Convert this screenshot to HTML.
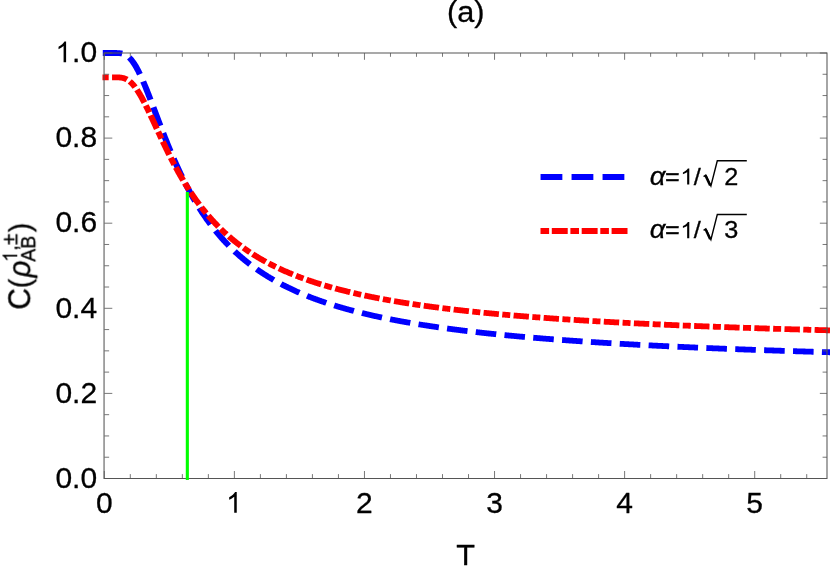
<!DOCTYPE html>
<html><head><meta charset="utf-8"><title>(a)</title>
<style>html,body{margin:0;padding:0;background:#fff;overflow:hidden}svg{display:block}text{font-family:"Liberation Sans",sans-serif;fill:#000;stroke:#000;stroke-width:0.3px}</style></head><body>
<svg width="830" height="567" viewBox="0 0 830 567">
<rect x="0" y="0" width="830" height="567" fill="#fff"/>
<g transform="scale(1.0509 1)">
<path d="M97.80 53.00 L99.62 53.00 L100.12 53.00 L100.61 53.00 L101.11 53.00 L101.61 53.00 L102.10 53.00 L102.60 53.00 L103.10 53.00 L103.59 53.00 L104.09 53.00 L104.59 53.00 L105.08 53.00 L105.58 53.00 L106.08 53.00 L106.57 53.00 L107.07 53.00 L107.57 53.00 L108.06 53.00 L108.56 53.00 L109.06 53.00 L109.55 53.01 L110.05 53.01 L110.55 53.01 L111.04 53.02 L111.54 53.04 L112.04 53.05 L112.53 53.08 L113.03 53.11 L113.53 53.15 L114.02 53.20 L114.52 53.26 L115.01 53.33 L115.51 53.42 L116.01 53.53 L116.50 53.65 L117.00 53.80 L117.50 53.96 L117.99 54.15 L118.49 54.37 L118.99 54.60 L119.48 54.87 L119.98 55.16 L120.48 55.49 L120.97 55.84 L121.47 56.22 L121.97 56.64 L122.46 57.09 L122.96 57.56 L123.46 58.08 L123.95 58.62 L124.45 59.20 L124.95 59.81 L125.44 60.45 L125.94 61.12 L126.44 61.83 L126.93 62.57 L127.43 63.34 L127.93 64.14 L128.42 64.97 L128.92 65.83 L129.42 66.72 L129.91 67.64 L130.41 68.59 L130.91 69.56 L131.40 70.56 L131.90 71.58 L132.40 72.63 L132.89 73.70 L133.39 74.79 L133.89 75.91 L134.38 77.04 L134.88 78.20 L135.38 79.37 L135.87 80.57 L136.37 81.78 L136.87 83.00 L137.36 84.24 L137.86 85.50 L138.36 86.77 L138.85 88.05 L139.35 89.34 L139.85 90.65 L140.34 91.96 L140.84 93.29 L141.34 94.62 L141.83 95.96 L142.33 97.31 L142.83 98.66 L143.32 100.02 L143.82 101.38 L144.32 102.75 L144.81 104.13 L145.31 105.50 L145.81 106.88 L146.30 108.26 L146.80 109.64 L147.30 111.03 L147.79 112.41 L148.29 113.79 L148.79 115.18 L149.28 116.56 L149.78 117.94 L150.27 119.32 L150.77 120.69 L151.27 122.07 L151.76 123.44 L152.26 124.81 L152.76 126.17 L153.25 127.53 L153.75 128.89 L154.25 130.24 L154.74 131.58 L155.24 132.93 L155.74 134.26 L156.23 135.59 L156.73 136.92 L157.23 138.24 L157.72 139.55 L158.22 140.86 L158.72 142.16 L159.21 143.45 L159.71 144.74 L160.21 146.02 L160.70 147.29 L161.20 148.55 L161.70 149.81 L162.19 151.06 L162.69 152.31 L163.19 153.54 L163.68 154.77 L164.18 155.99 L164.68 157.21 L165.17 158.41 L165.67 159.61 L166.17 160.80 L166.66 161.98 L167.16 163.15 L167.66 164.32 L168.15 165.48 L168.65 166.63 L169.15 167.77 L169.64 168.90 L170.14 170.02 L170.64 171.14 L171.13 172.25 L171.63 173.35 L172.13 174.44 L172.62 175.53 L173.12 176.60 L173.62 177.67 L174.11 178.73 L174.61 179.79 L175.11 180.83 L175.60 181.87 L176.10 182.90 L176.60 183.92 L177.09 184.93 L177.59 185.93 L178.09 186.93 L178.58 187.92 L179.08 188.90 L179.58 189.88 L180.07 190.84 L180.57 191.80 L181.07 192.75 L181.56 193.69 L182.06 194.63 L182.56 195.56 L183.05 196.48 L183.55 197.40 L184.05 198.30 L184.54 199.20 L185.04 200.09 L185.54 200.98 L186.03 201.86 L186.53 202.73 L187.02 203.59 L187.52 204.45 L188.02 205.30 L188.51 206.14 L189.01 206.98 L189.51 207.81 L190.00 208.63 L190.50 209.45 L191.00 210.26 L191.49 211.07 L191.99 211.86 L192.49 212.65 L192.98 213.44 L193.48 214.22 L193.98 214.99 L194.47 215.76 L194.97 216.51 L195.47 217.27 L195.96 218.02 L196.46 218.76 L196.96 219.49 L197.45 220.22 L197.95 220.95 L198.45 221.67 L198.94 222.38 L199.44 223.09 L199.94 223.79 L200.43 224.49 L200.93 225.18 L201.43 225.86 L201.92 226.54 L202.42 227.22 L202.92 227.89 L203.41 228.55 L203.91 229.21 L204.41 229.86 L204.90 230.51 L205.40 231.16 L205.90 231.79 L206.39 232.43 L206.89 233.06 L207.39 233.68 L207.88 234.30 L208.38 234.91 L208.88 235.52 L209.37 236.13 L209.87 236.73 L210.37 237.32 L210.86 237.92 L211.36 238.50 L211.86 239.08 L212.35 239.66 L212.85 240.24 L213.35 240.81 L213.84 241.37 L214.34 241.93 L214.84 242.49 L215.33 243.04 L215.83 243.59 L216.33 244.13 L216.82 244.67 L217.32 245.21 L217.82 245.74 L218.31 246.27 L218.81 246.79 L219.31 247.31 L219.80 247.83 L220.30 248.34 L220.80 248.85 L221.29 249.36 L221.79 249.86 L222.29 250.35 L222.78 250.85 L223.28 251.34 L223.77 251.83 L224.27 252.31 L224.77 252.79 L225.26 253.27 L225.76 253.74 L226.26 254.21 L226.75 254.68 L227.25 255.14 L227.75 255.60 L228.24 256.06 L228.74 256.51 L229.24 256.96 L229.73 257.41 L230.23 257.85 L230.73 258.29 L231.22 258.73 L231.72 259.17 L232.22 259.60 L232.71 260.03 L233.21 260.45 L233.71 260.88 L234.20 261.30 L234.70 261.71 L235.20 262.13 L235.69 262.54 L236.19 262.95 L236.69 263.35 L237.18 263.76 L237.68 264.16 L238.18 264.56 L238.67 264.95 L239.17 265.34 L239.67 265.73 L240.16 266.12 L240.66 266.51 L241.16 266.89 L241.65 267.27 L242.15 267.64 L242.65 268.02 L243.14 268.39 L243.64 268.76 L244.14 269.13 L244.63 269.49 L245.13 269.86 L245.63 270.22 L246.12 270.57 L246.62 270.93 L247.12 271.28 L247.61 271.63 L248.11 271.98 L248.61 272.33 L249.10 272.67 L249.60 273.01 L250.10 273.35 L250.59 273.69 L251.09 274.03 L251.59 274.36 L252.08 274.69 L252.58 275.02 L253.08 275.35 L253.57 275.67 L254.07 276.00 L254.57 276.32 L255.06 276.64 L255.56 276.95 L256.06 277.27 L256.55 277.58 L257.05 277.89 L257.55 278.20 L258.04 278.51 L258.54 278.82 L259.04 279.12 L259.53 279.42 L260.03 279.72 L260.52 280.02 L261.02 280.32 L261.52 280.61 L262.01 280.91 L262.51 281.20 L263.01 281.49 L263.50 281.77 L264.00 282.06 L264.50 282.34 L264.99 282.63 L265.49 282.91 L265.99 283.19 L266.48 283.46 L266.98 283.74 L267.48 284.02 L267.97 284.29 L268.47 284.56 L268.97 284.83 L269.46 285.10 L269.96 285.36 L270.46 285.63 L270.95 285.89 L271.45 286.15 L271.95 286.42 L272.44 286.67 L272.94 286.93 L273.44 287.19 L273.93 287.44 L274.43 287.70 L274.93 287.95 L275.42 288.20 L275.92 288.45 L276.42 288.69 L276.91 288.94 L277.41 289.19 L277.91 289.43 L278.40 289.67 L278.90 289.91 L279.40 290.15 L279.89 290.39 L280.39 290.63 L280.89 290.86 L281.38 291.10 L281.88 291.33 L282.38 291.56 L282.87 291.79 L283.37 292.02 L283.87 292.25 L284.36 292.48 L284.86 292.70 L285.36 292.93 L285.85 293.15 L286.35 293.37 L286.85 293.59 L287.34 293.81 L287.84 294.03 L288.34 294.25 L288.83 294.46 L289.33 294.68 L289.83 294.89 L290.32 295.10 L290.82 295.32 L291.32 295.53 L291.81 295.73 L292.31 295.94 L292.81 296.15 L293.30 296.36 L293.80 296.56 L294.30 296.77 L294.79 296.97 L295.29 297.17 L295.79 297.37 L296.28 297.57 L296.78 297.77 L297.27 297.97 L297.77 298.16 L298.27 298.36 L298.76 298.56 L299.26 298.75 L299.76 298.94 L300.25 299.13 L300.75 299.32 L301.25 299.51 L301.74 299.70 L302.24 299.89 L302.74 300.08 L303.23 300.27 L303.73 300.45 L304.23 300.64 L304.72 300.82 L305.22 301.00 L305.72 301.18 L306.21 301.36 L306.71 301.54 L307.21 301.72 L307.70 301.90 L308.20 302.08 L308.70 302.25 L309.19 302.43 L309.69 302.61 L310.19 302.78 L310.68 302.95 L311.18 303.12 L311.68 303.30 L312.17 303.47 L312.67 303.64 L313.17 303.81 L313.66 303.97 L314.16 304.14 L314.66 304.31 L315.15 304.47 L315.65 304.64 L316.15 304.80 L316.64 304.97 L317.14 305.13 L317.64 305.29 L318.13 305.45 L318.63 305.61 L319.13 305.77 L319.62 305.93 L320.12 306.09 L320.62 306.25 L321.11 306.40 L321.61 306.56 L322.11 306.72 L322.60 306.87 L323.10 307.02 L323.60 307.18 L324.09 307.33 L324.59 307.48 L325.09 307.63 L325.58 307.78 L326.08 307.93 L326.58 308.08 L327.07 308.23 L327.57 308.38 L328.07 308.53 L328.56 308.67 L329.06 308.82 L329.56 308.96 L330.05 309.11 L330.55 309.25 L331.05 309.40 L331.54 309.54 L332.04 309.68 L332.54 309.82 L333.03 309.96 L333.53 310.10 L334.02 310.24 L334.52 310.38 L335.02 310.52 L335.51 310.66 L336.01 310.80 L336.51 310.93 L337.00 311.07 L337.50 311.20 L338.00 311.34 L338.49 311.47 L338.99 311.61 L339.49 311.74 L339.98 311.87 L340.48 312.00 L340.98 312.14 L341.47 312.27 L341.97 312.40 L342.47 312.53 L342.96 312.66 L343.46 312.78 L343.96 312.91 L344.45 313.04 L344.95 313.17 L345.45 313.29 L345.94 313.42 L346.44 313.55 L346.94 313.67 L347.43 313.79 L347.93 313.92 L348.43 314.04 L348.92 314.17 L349.42 314.29 L349.92 314.41 L350.41 314.53 L350.91 314.65 L351.41 314.77 L351.90 314.89 L352.40 315.01 L352.90 315.13 L353.39 315.25 L353.89 315.37 L354.39 315.48 L354.88 315.60 L355.38 315.72 L355.88 315.83 L356.37 315.95 L356.87 316.07 L357.37 316.18 L357.86 316.29 L358.36 316.41 L358.86 316.52 L359.35 316.63 L359.85 316.75 L360.35 316.86 L360.84 316.97 L361.34 317.08 L361.84 317.19 L362.33 317.30 L362.83 317.41 L363.33 317.52 L363.82 317.63 L364.32 317.74 L364.82 317.85 L365.31 317.96 L365.81 318.06 L366.31 318.17 L366.80 318.28 L367.30 318.38 L367.80 318.49 L368.29 318.59 L368.79 318.70 L369.29 318.80 L369.78 318.91 L370.28 319.01 L370.77 319.11 L371.27 319.22 L371.77 319.32 L372.26 319.42 L372.76 319.52 L373.26 319.63 L373.75 319.73 L374.25 319.83 L374.75 319.93 L375.24 320.03 L375.74 320.13 L376.24 320.23 L376.73 320.32 L377.23 320.42 L377.73 320.52 L378.22 320.62 L378.72 320.72 L379.22 320.81 L379.71 320.91 L380.21 321.01 L380.71 321.10 L381.20 321.20 L381.70 321.29 L382.20 321.39 L382.69 321.48 L383.19 321.58 L383.69 321.67 L384.18 321.76 L384.68 321.86 L385.18 321.95 L385.67 322.04 L386.17 322.13 L386.67 322.22 L387.16 322.32 L387.66 322.41 L388.16 322.50 L388.65 322.59 L389.15 322.68 L389.65 322.77 L390.14 322.86 L390.64 322.95 L391.14 323.04 L391.63 323.13 L392.13 323.21 L392.63 323.30 L393.12 323.39 L393.62 323.48 L394.12 323.56 L394.61 323.65 L395.11 323.74 L395.61 323.82 L396.10 323.91 L396.60 323.99 L397.10 324.08 L397.59 324.16 L398.09 324.25 L398.59 324.33 L399.08 324.42 L399.58 324.50 L400.08 324.58 L400.57 324.67 L401.07 324.75 L401.57 324.83 L402.06 324.92 L402.56 325.00 L403.06 325.08 L403.55 325.16 L404.05 325.24 L404.55 325.32 L405.04 325.40 L405.54 325.48 L406.04 325.56 L406.53 325.64 L407.03 325.72 L407.52 325.80 L408.02 325.88 L408.52 325.96 L409.01 326.04 L409.51 326.12 L410.01 326.20 L410.50 326.27 L411.00 326.35 L411.50 326.43 L411.99 326.51 L412.49 326.58 L412.99 326.66 L413.48 326.73 L413.98 326.81 L414.48 326.89 L414.97 326.96 L415.47 327.04 L415.97 327.11 L416.46 327.19 L416.96 327.26 L417.46 327.34 L417.95 327.41 L418.45 327.48 L418.95 327.56 L419.44 327.63 L419.94 327.70 L420.44 327.78 L420.93 327.85 L421.43 327.92 L421.93 327.99 L422.42 328.07 L422.92 328.14 L423.42 328.21 L423.91 328.28 L424.41 328.35 L424.91 328.42 L425.40 328.49 L425.90 328.56 L426.40 328.63 L426.89 328.70 L427.39 328.77 L427.89 328.84 L428.38 328.91 L428.88 328.98 L429.38 329.05 L429.87 329.12 L430.37 329.19 L430.87 329.25 L431.36 329.32 L431.86 329.39 L432.36 329.46 L432.85 329.52 L433.35 329.59 L433.85 329.66 L434.34 329.72 L434.84 329.79 L435.34 329.86 L435.83 329.92 L436.33 329.99 L436.83 330.05 L437.32 330.12 L437.82 330.19 L438.32 330.25 L438.81 330.32 L439.31 330.38 L439.81 330.44 L440.30 330.51 L440.80 330.57 L441.30 330.64 L441.79 330.70 L442.29 330.76 L442.79 330.83 L443.28 330.89 L443.78 330.95 L444.27 331.02 L444.77 331.08 L445.27 331.14 L445.76 331.20 L446.26 331.27 L446.76 331.33 L447.25 331.39 L447.75 331.45 L448.25 331.51 L448.74 331.57 L449.24 331.63 L449.74 331.69 L450.23 331.75 L450.73 331.81 L451.23 331.87 L451.72 331.93 L452.22 331.99 L452.72 332.05 L453.21 332.11 L453.71 332.17 L454.21 332.23 L454.70 332.29 L455.20 332.35 L455.70 332.41 L456.19 332.47 L456.69 332.53 L457.19 332.58 L457.68 332.64 L458.18 332.70 L458.68 332.76 L459.17 332.81 L459.67 332.87 L460.17 332.93 L460.66 332.99 L461.16 333.04 L461.66 333.10 L462.15 333.16 L462.65 333.21 L463.15 333.27 L463.64 333.32 L464.14 333.38 L464.64 333.44 L465.13 333.49 L465.63 333.55 L466.13 333.60 L466.62 333.66 L467.12 333.71 L467.62 333.77 L468.11 333.82 L468.61 333.88 L469.11 333.93 L469.60 333.98 L470.10 334.04 L470.60 334.09 L471.09 334.15 L471.59 334.20 L472.09 334.25 L472.58 334.31 L473.08 334.36 L473.58 334.41 L474.07 334.46 L474.57 334.52 L475.07 334.57 L475.56 334.62 L476.06 334.67 L476.56 334.73 L477.05 334.78 L477.55 334.83 L478.05 334.88 L478.54 334.93 L479.04 334.98 L479.54 335.04 L480.03 335.09 L480.53 335.14 L481.02 335.19 L481.52 335.24 L482.02 335.29 L482.51 335.34 L483.01 335.39 L483.51 335.44 L484.00 335.49 L484.50 335.54 L485.00 335.59 L485.49 335.64 L485.99 335.69 L486.49 335.74 L486.98 335.79 L487.48 335.84 L487.98 335.88 L488.47 335.93 L488.97 335.98 L489.47 336.03 L489.96 336.08 L490.46 336.13 L490.96 336.18 L491.45 336.22 L491.95 336.27 L492.45 336.32 L492.94 336.37 L493.44 336.41 L493.94 336.46 L494.43 336.51 L494.93 336.56 L495.43 336.60 L495.92 336.65 L496.42 336.70 L496.92 336.74 L497.41 336.79 L497.91 336.84 L498.41 336.88 L498.90 336.93 L499.40 336.98 L499.90 337.02 L500.39 337.07 L500.89 337.11 L501.39 337.16 L501.88 337.20 L502.38 337.25 L502.88 337.29 L503.37 337.34 L503.87 337.38 L504.37 337.43 L504.86 337.47 L505.36 337.52 L505.86 337.56 L506.35 337.61 L506.85 337.65 L507.35 337.70 L507.84 337.74 L508.34 337.78 L508.84 337.83 L509.33 337.87 L509.83 337.92 L510.33 337.96 L510.82 338.00 L511.32 338.05 L511.82 338.09 L512.31 338.13 L512.81 338.18 L513.31 338.22 L513.80 338.26 L514.30 338.30 L514.80 338.35 L515.29 338.39 L515.79 338.43 L516.29 338.47 L516.78 338.52 L517.28 338.56 L517.77 338.60 L518.27 338.64 L518.77 338.68 L519.26 338.72 L519.76 338.77 L520.26 338.81 L520.75 338.85 L521.25 338.89 L521.75 338.93 L522.24 338.97 L522.74 339.01 L523.24 339.05 L523.73 339.09 L524.23 339.14 L524.73 339.18 L525.22 339.22 L525.72 339.26 L526.22 339.30 L526.71 339.34 L527.21 339.38 L527.71 339.42 L528.20 339.46 L528.70 339.50 L529.20 339.54 L529.69 339.58 L530.19 339.62 L530.69 339.65 L531.18 339.69 L531.68 339.73 L532.18 339.77 L532.67 339.81 L533.17 339.85 L533.67 339.89 L534.16 339.93 L534.66 339.97 L535.16 340.00 L535.65 340.04 L536.15 340.08 L536.65 340.12 L537.14 340.16 L537.64 340.20 L538.14 340.23 L538.63 340.27 L539.13 340.31 L539.63 340.35 L540.12 340.38 L540.62 340.42 L541.12 340.46 L541.61 340.50 L542.11 340.53 L542.61 340.57 L543.10 340.61 L543.60 340.65 L544.10 340.68 L544.59 340.72 L545.09 340.76 L545.59 340.79 L546.08 340.83 L546.58 340.87 L547.08 340.90 L547.57 340.94 L548.07 340.98 L548.57 341.01 L549.06 341.05 L549.56 341.08 L550.06 341.12 L550.55 341.16 L551.05 341.19 L551.55 341.23 L552.04 341.26 L552.54 341.30 L553.04 341.33 L553.53 341.37 L554.03 341.40 L554.52 341.44 L555.02 341.47 L555.52 341.51 L556.01 341.54 L556.51 341.58 L557.01 341.61 L557.50 341.65 L558.00 341.68 L558.50 341.72 L558.99 341.75 L559.49 341.79 L559.99 341.82 L560.48 341.86 L560.98 341.89 L561.48 341.92 L561.97 341.96 L562.47 341.99 L562.97 342.03 L563.46 342.06 L563.96 342.09 L564.46 342.13 L564.95 342.16 L565.45 342.19 L565.95 342.23 L566.44 342.26 L566.94 342.29 L567.44 342.33 L567.93 342.36 L568.43 342.39 L568.93 342.43 L569.42 342.46 L569.92 342.49 L570.42 342.52 L570.91 342.56 L571.41 342.59 L571.91 342.62 L572.40 342.65 L572.90 342.69 L573.40 342.72 L573.89 342.75 L574.39 342.78 L574.89 342.82 L575.38 342.85 L575.88 342.88 L576.38 342.91 L576.87 342.94 L577.37 342.98 L577.87 343.01 L578.36 343.04 L578.86 343.07 L579.36 343.10 L579.85 343.13 L580.35 343.17 L580.85 343.20 L581.34 343.23 L581.84 343.26 L582.34 343.29 L582.83 343.32 L583.33 343.35 L583.83 343.38 L584.32 343.41 L584.82 343.44 L585.32 343.48 L585.81 343.51 L586.31 343.54 L586.81 343.57 L587.30 343.60 L587.80 343.63 L588.30 343.66 L588.79 343.69 L589.29 343.72 L589.79 343.75 L590.28 343.78 L590.78 343.81 L591.27 343.84 L591.77 343.87 L592.27 343.90 L592.76 343.93 L593.26 343.96 L593.76 343.99 L594.25 344.02 L594.75 344.05 L595.25 344.08 L595.74 344.11 L596.24 344.13 L596.74 344.16 L597.23 344.19 L597.73 344.22 L598.23 344.25 L598.72 344.28 L599.22 344.31 L599.72 344.34 L600.21 344.37 L600.71 344.40 L601.21 344.42 L601.70 344.45 L602.20 344.48 L602.70 344.51 L603.19 344.54 L603.69 344.57 L604.19 344.60 L604.68 344.62 L605.18 344.65 L605.68 344.68 L606.17 344.71 L606.67 344.74 L607.17 344.77 L607.66 344.79 L608.16 344.82 L608.66 344.85 L609.15 344.88 L609.65 344.90 L610.15 344.93 L610.64 344.96 L611.14 344.99 L611.64 345.01 L612.13 345.04 L612.63 345.07 L613.13 345.10 L613.62 345.12 L614.12 345.15 L614.62 345.18 L615.11 345.21 L615.61 345.23 L616.11 345.26 L616.60 345.29 L617.10 345.31 L617.60 345.34 L618.09 345.37 L618.59 345.39 L619.09 345.42 L619.58 345.45 L620.08 345.47 L620.58 345.50 L621.07 345.53 L621.57 345.55 L622.07 345.58 L622.56 345.61 L623.06 345.63 L623.56 345.66 L624.05 345.69 L624.55 345.71 L625.05 345.74 L625.54 345.76 L626.04 345.79 L626.54 345.82 L627.03 345.84 L627.53 345.87 L628.02 345.89 L628.52 345.92 L629.02 345.94 L629.51 345.97 L630.01 346.00 L630.51 346.02 L631.00 346.05 L631.50 346.07 L632.00 346.10 L632.49 346.12 L632.99 346.15 L633.49 346.17 L633.98 346.20 L634.48 346.22 L634.98 346.25 L635.47 346.27 L635.97 346.30 L636.47 346.32 L636.96 346.35 L637.46 346.37 L637.96 346.40 L638.45 346.42 L638.95 346.45 L639.45 346.47 L639.94 346.50 L640.44 346.52 L640.94 346.55 L641.43 346.57 L641.93 346.60 L642.43 346.62 L642.92 346.64 L643.42 346.67 L643.92 346.69 L644.41 346.72 L644.91 346.74 L645.41 346.76 L645.90 346.79 L646.40 346.81 L646.90 346.84 L647.39 346.86 L647.89 346.88 L648.39 346.91 L648.88 346.93 L649.38 346.96 L649.88 346.98 L650.37 347.00 L650.87 347.03 L651.37 347.05 L651.86 347.07 L652.36 347.10 L652.86 347.12 L653.35 347.14 L653.85 347.17 L654.35 347.19 L654.84 347.21 L655.34 347.24 L655.84 347.26 L656.33 347.28 L656.83 347.31 L657.33 347.33 L657.82 347.35 L658.32 347.38 L658.82 347.40 L659.31 347.42 L659.81 347.44 L660.31 347.47 L660.80 347.49 L661.30 347.51 L661.80 347.54 L662.29 347.56 L662.79 347.58 L663.29 347.60 L663.78 347.63 L664.28 347.65 L664.77 347.67 L665.27 347.69 L665.77 347.72 L666.26 347.74 L666.76 347.76 L667.26 347.78 L667.75 347.80 L668.25 347.83 L668.75 347.85 L669.24 347.87 L669.74 347.89 L670.24 347.91 L670.73 347.94 L671.23 347.96 L671.73 347.98 L672.22 348.00 L672.72 348.02 L673.22 348.05 L673.71 348.07 L674.21 348.09 L674.71 348.11 L675.20 348.13 L675.70 348.15 L676.20 348.18 L676.69 348.20 L677.19 348.22 L677.69 348.24 L678.18 348.26 L678.68 348.28 L679.18 348.30 L679.67 348.33 L680.17 348.35 L680.67 348.37 L681.16 348.39 L681.66 348.41 L682.16 348.43 L682.65 348.45 L683.15 348.47 L683.65 348.49 L684.14 348.51 L684.64 348.54 L685.14 348.56 L685.63 348.58 L686.13 348.60 L686.63 348.62 L687.12 348.64 L687.62 348.66 L688.12 348.68 L688.61 348.70 L689.11 348.72 L689.61 348.74 L690.10 348.76 L690.60 348.78 L691.10 348.80 L691.59 348.82 L692.09 348.84 L692.59 348.86 L693.08 348.88 L693.58 348.91 L694.08 348.93 L694.57 348.95 L695.07 348.97 L695.57 348.99 L696.06 349.01 L696.56 349.03 L697.06 349.05 L697.55 349.07 L698.05 349.09 L698.55 349.11 L699.04 349.13 L699.54 349.15 L700.04 349.16 L700.53 349.18 L701.03 349.20 L701.52 349.22 L702.02 349.24 L702.52 349.26 L703.01 349.28 L703.51 349.30 L704.01 349.32 L704.50 349.34 L705.00 349.36 L705.50 349.38 L705.99 349.40 L706.49 349.42 L706.99 349.44 L707.48 349.46 L707.98 349.48 L708.48 349.50 L708.97 349.52 L709.47 349.53 L709.97 349.55 L710.46 349.57 L710.96 349.59 L711.46 349.61 L711.95 349.63 L712.45 349.65 L712.95 349.67 L713.44 349.69 L713.94 349.71 L714.44 349.72 L714.93 349.74 L715.43 349.76 L715.93 349.78 L716.42 349.80 L716.92 349.82 L717.42 349.84 L717.91 349.86 L718.41 349.87 L718.91 349.89 L719.40 349.91 L719.90 349.93 L720.40 349.95 L720.89 349.97 L721.39 349.98 L721.89 350.00 L722.38 350.02 L722.88 350.04 L723.38 350.06 L723.87 350.08 L724.37 350.09 L724.87 350.11 L725.36 350.13 L725.86 350.15 L726.36 350.17 L726.85 350.19 L727.35 350.20 L727.85 350.22 L728.34 350.24 L728.84 350.26 L729.34 350.28 L729.83 350.29 L730.33 350.31 L730.83 350.33 L731.32 350.35 L731.82 350.36 L732.32 350.38 L732.81 350.40 L733.31 350.42 L733.81 350.44 L734.30 350.45 L734.80 350.47 L735.30 350.49 L735.79 350.51 L736.29 350.52 L736.78 350.54 L737.28 350.56 L737.78 350.58 L738.27 350.59 L738.77 350.61 L739.27 350.63 L739.76 350.64 L740.26 350.66 L740.76 350.68 L741.25 350.70 L741.75 350.71 L742.25 350.73 L742.74 350.75 L743.24 350.77 L743.74 350.78 L744.23 350.80 L744.73 350.82 L745.23 350.83 L745.72 350.85 L746.22 350.87 L746.72 350.88 L747.21 350.90 L747.71 350.92 L748.21 350.94 L748.70 350.95 L749.20 350.97 L749.70 350.99 L750.19 351.00 L750.69 351.02 L751.19 351.04 L751.68 351.05 L752.18 351.07 L752.68 351.09 L753.17 351.10 L753.67 351.12 L754.17 351.14 L754.66 351.15 L755.16 351.17 L755.66 351.18 L756.15 351.20 L756.65 351.22 L757.15 351.23 L757.64 351.25 L758.14 351.27 L758.64 351.28 L759.13 351.30 L759.63 351.32 L760.13 351.33 L760.62 351.35 L761.12 351.36 L761.62 351.38 L762.11 351.40 L762.61 351.41 L763.11 351.43 L763.60 351.44 L764.10 351.46 L764.60 351.48 L765.09 351.49 L765.59 351.51 L766.09 351.52 L766.58 351.54 L767.08 351.56 L767.58 351.57 L768.07 351.59 L768.57 351.60 L769.07 351.62 L769.56 351.64 L770.06 351.65 L770.56 351.67 L771.05 351.68 L771.55 351.70 L772.05 351.71 L772.54 351.73 L773.04 351.75 L773.53 351.76 L774.03 351.78 L774.53 351.79 L775.02 351.81 L775.52 351.82 L776.02 351.84 L776.51 351.85 L777.01 351.87 L777.51 351.88 L778.00 351.90 L778.50 351.92 L779.00 351.93 L779.49 351.95 L779.99 351.96 L780.49 351.98 L780.98 351.99 L781.48 352.01 L781.98 352.02 L782.47 352.04 L782.97 352.05 L783.47 352.07 L783.96 352.08 L784.46 352.10 L784.96 352.11 L785.45 352.13 L785.95 352.14 L786.45 352.16 L786.94 352.17 L787.44 352.19 L787.94 352.20 L788.43 352.22 L788.93 352.23 L789.43 352.25 L789.92 352.26 L790.42 352.28 L790.92 352.29 L791.41 352.31 L791.91 352.32 L792.41 352.34 L792.90 352.35 L793.40 352.37 L793.90 352.38 L794.39 352.39 L794.89 352.41" fill="none" stroke="#0000ff" stroke-width="5.8" stroke-linejoin="round" stroke-dasharray="19.600 7.910" stroke-dashoffset="1.10"/>
<path d="M97.52 77.33 L99.62 77.33 L100.12 77.33 L100.61 77.33 L101.11 77.33 L101.61 77.33 L102.10 77.33 L102.60 77.33 L103.10 77.33 L103.59 77.33 L104.09 77.33 L104.59 77.33 L105.08 77.33 L105.58 77.33 L106.08 77.33 L106.57 77.33 L107.07 77.33 L107.57 77.33 L108.06 77.34 L108.56 77.34 L109.06 77.34 L109.55 77.34 L110.05 77.34 L110.55 77.35 L111.04 77.35 L111.54 77.36 L112.04 77.38 L112.53 77.40 L113.03 77.42 L113.53 77.45 L114.02 77.49 L114.52 77.54 L115.01 77.60 L115.51 77.67 L116.01 77.76 L116.50 77.86 L117.00 77.98 L117.50 78.11 L117.99 78.26 L118.49 78.43 L118.99 78.63 L119.48 78.84 L119.98 79.08 L120.48 79.34 L120.97 79.62 L121.47 79.93 L121.97 80.26 L122.46 80.62 L122.96 81.01 L123.46 81.42 L123.95 81.86 L124.45 82.32 L124.95 82.82 L125.44 83.33 L125.94 83.88 L126.44 84.45 L126.93 85.04 L127.43 85.66 L127.93 86.31 L128.42 86.98 L128.92 87.67 L129.42 88.39 L129.91 89.13 L130.41 89.90 L130.91 90.68 L131.40 91.49 L131.90 92.32 L132.40 93.16 L132.89 94.03 L133.39 94.91 L133.89 95.81 L134.38 96.73 L134.88 97.67 L135.38 98.62 L135.87 99.58 L136.37 100.56 L136.87 101.56 L137.36 102.56 L137.86 103.58 L138.36 104.61 L138.85 105.64 L139.35 106.69 L139.85 107.75 L140.34 108.82 L140.84 109.89 L141.34 110.97 L141.83 112.06 L142.33 113.16 L142.83 114.26 L143.32 115.36 L143.82 116.47 L144.32 117.59 L144.81 118.70 L145.31 119.82 L145.81 120.95 L146.30 122.07 L146.80 123.20 L147.30 124.32 L147.79 125.45 L148.29 126.58 L148.79 127.71 L149.28 128.84 L149.78 129.96 L150.27 131.09 L150.77 132.22 L151.27 133.34 L151.76 134.46 L152.26 135.58 L152.76 136.69 L153.25 137.81 L153.75 138.92 L154.25 140.02 L154.74 141.13 L155.24 142.23 L155.74 143.32 L156.23 144.41 L156.73 145.50 L157.23 146.58 L157.72 147.66 L158.22 148.74 L158.72 149.80 L159.21 150.87 L159.71 151.93 L160.21 152.98 L160.70 154.03 L161.20 155.07 L161.70 156.11 L162.19 157.14 L162.69 158.16 L163.19 159.18 L163.68 160.19 L164.18 161.20 L164.68 162.20 L165.17 163.20 L165.67 164.19 L166.17 165.17 L166.66 166.15 L167.16 167.12 L167.66 168.08 L168.15 169.04 L168.65 169.99 L169.15 170.93 L169.64 171.87 L170.14 172.81 L170.64 173.73 L171.13 174.65 L171.63 175.56 L172.13 176.47 L172.62 177.37 L173.12 178.26 L173.62 179.15 L174.11 180.03 L174.61 180.91 L175.11 181.78 L175.60 182.64 L176.10 183.50 L176.60 184.34 L177.09 185.19 L177.59 186.03 L178.09 186.86 L178.58 187.68 L179.08 188.50 L179.58 189.31 L180.07 190.12 L180.57 190.92 L181.07 191.71 L181.56 192.50 L182.06 193.28 L182.56 194.06 L183.05 194.83 L183.55 195.59 L184.05 196.35 L184.54 197.11 L185.04 197.85 L185.54 198.59 L186.03 199.33 L186.53 200.06 L187.02 200.78 L187.52 201.50 L188.02 202.22 L188.51 202.92 L189.01 203.63 L189.51 204.32 L190.00 205.01 L190.50 205.70 L191.00 206.38 L191.49 207.06 L191.99 207.73 L192.49 208.39 L192.98 209.05 L193.48 209.71 L193.98 210.36 L194.47 211.01 L194.97 211.65 L195.47 212.28 L195.96 212.91 L196.46 213.54 L196.96 214.16 L197.45 214.77 L197.95 215.39 L198.45 215.99 L198.94 216.59 L199.44 217.19 L199.94 217.78 L200.43 218.37 L200.93 218.96 L201.43 219.54 L201.92 220.11 L202.42 220.68 L202.92 221.25 L203.41 221.81 L203.91 222.37 L204.41 222.92 L204.90 223.47 L205.40 224.02 L205.90 224.56 L206.39 225.10 L206.89 225.63 L207.39 226.16 L207.88 226.69 L208.38 227.21 L208.88 227.73 L209.37 228.24 L209.87 228.75 L210.37 229.26 L210.86 229.76 L211.36 230.26 L211.86 230.75 L212.35 231.24 L212.85 231.73 L213.35 232.22 L213.84 232.70 L214.34 233.18 L214.84 233.65 L215.33 234.12 L215.83 234.59 L216.33 235.05 L216.82 235.51 L217.32 235.97 L217.82 236.42 L218.31 236.87 L218.81 237.32 L219.31 237.77 L219.80 238.21 L220.30 238.64 L220.80 239.08 L221.29 239.51 L221.79 239.94 L222.29 240.37 L222.78 240.79 L223.28 241.21 L223.77 241.63 L224.27 242.04 L224.77 242.45 L225.26 242.86 L225.76 243.26 L226.26 243.67 L226.75 244.07 L227.25 244.46 L227.75 244.86 L228.24 245.25 L228.74 245.64 L229.24 246.03 L229.73 246.41 L230.23 246.79 L230.73 247.17 L231.22 247.55 L231.72 247.92 L232.22 248.29 L232.71 248.66 L233.21 249.02 L233.71 249.39 L234.20 249.75 L234.70 250.11 L235.20 250.46 L235.69 250.82 L236.19 251.17 L236.69 251.52 L237.18 251.87 L237.68 252.21 L238.18 252.55 L238.67 252.89 L239.17 253.23 L239.67 253.57 L240.16 253.90 L240.66 254.23 L241.16 254.56 L241.65 254.89 L242.15 255.22 L242.65 255.54 L243.14 255.86 L243.64 256.18 L244.14 256.50 L244.63 256.81 L245.13 257.13 L245.63 257.44 L246.12 257.75 L246.62 258.05 L247.12 258.36 L247.61 258.66 L248.11 258.96 L248.61 259.26 L249.10 259.56 L249.60 259.86 L250.10 260.15 L250.59 260.44 L251.09 260.73 L251.59 261.02 L252.08 261.31 L252.58 261.59 L253.08 261.88 L253.57 262.16 L254.07 262.44 L254.57 262.72 L255.06 262.99 L255.56 263.27 L256.06 263.54 L256.55 263.81 L257.05 264.08 L257.55 264.35 L258.04 264.62 L258.54 264.89 L259.04 265.15 L259.53 265.41 L260.03 265.67 L260.52 265.93 L261.02 266.19 L261.52 266.45 L262.01 266.70 L262.51 266.95 L263.01 267.20 L263.50 267.46 L264.00 267.70 L264.50 267.95 L264.99 268.20 L265.49 268.44 L265.99 268.68 L266.48 268.93 L266.98 269.17 L267.48 269.41 L267.97 269.64 L268.47 269.88 L268.97 270.11 L269.46 270.35 L269.96 270.58 L270.46 270.81 L270.95 271.04 L271.45 271.27 L271.95 271.50 L272.44 271.72 L272.94 271.95 L273.44 272.17 L273.93 272.39 L274.43 272.61 L274.93 272.83 L275.42 273.05 L275.92 273.27 L276.42 273.49 L276.91 273.70 L277.41 273.92 L277.91 274.13 L278.40 274.34 L278.90 274.55 L279.40 274.76 L279.89 274.97 L280.39 275.18 L280.89 275.38 L281.38 275.59 L281.88 275.79 L282.38 275.99 L282.87 276.19 L283.37 276.39 L283.87 276.59 L284.36 276.79 L284.86 276.99 L285.36 277.19 L285.85 277.38 L286.35 277.58 L286.85 277.77 L287.34 277.96 L287.84 278.15 L288.34 278.34 L288.83 278.53 L289.33 278.72 L289.83 278.91 L290.32 279.10 L290.82 279.28 L291.32 279.47 L291.81 279.65 L292.31 279.83 L292.81 280.01 L293.30 280.20 L293.80 280.38 L294.30 280.55 L294.79 280.73 L295.29 280.91 L295.79 281.09 L296.28 281.26 L296.78 281.44 L297.27 281.61 L297.77 281.78 L298.27 281.96 L298.76 282.13 L299.26 282.30 L299.76 282.47 L300.25 282.64 L300.75 282.80 L301.25 282.97 L301.74 283.14 L302.24 283.30 L302.74 283.47 L303.23 283.63 L303.73 283.79 L304.23 283.96 L304.72 284.12 L305.22 284.28 L305.72 284.44 L306.21 284.60 L306.71 284.76 L307.21 284.91 L307.70 285.07 L308.20 285.23 L308.70 285.38 L309.19 285.54 L309.69 285.69 L310.19 285.84 L310.68 286.00 L311.18 286.15 L311.68 286.30 L312.17 286.45 L312.67 286.60 L313.17 286.75 L313.66 286.90 L314.16 287.05 L314.66 287.19 L315.15 287.34 L315.65 287.48 L316.15 287.63 L316.64 287.77 L317.14 287.92 L317.64 288.06 L318.13 288.20 L318.63 288.34 L319.13 288.49 L319.62 288.63 L320.12 288.77 L320.62 288.91 L321.11 289.04 L321.61 289.18 L322.11 289.32 L322.60 289.46 L323.10 289.59 L323.60 289.73 L324.09 289.86 L324.59 290.00 L325.09 290.13 L325.58 290.26 L326.08 290.40 L326.58 290.53 L327.07 290.66 L327.57 290.79 L328.07 290.92 L328.56 291.05 L329.06 291.18 L329.56 291.31 L330.05 291.44 L330.55 291.56 L331.05 291.69 L331.54 291.82 L332.04 291.94 L332.54 292.07 L333.03 292.19 L333.53 292.32 L334.02 292.44 L334.52 292.56 L335.02 292.69 L335.51 292.81 L336.01 292.93 L336.51 293.05 L337.00 293.17 L337.50 293.29 L338.00 293.41 L338.49 293.53 L338.99 293.65 L339.49 293.77 L339.98 293.89 L340.48 294.00 L340.98 294.12 L341.47 294.24 L341.97 294.35 L342.47 294.47 L342.96 294.58 L343.46 294.70 L343.96 294.81 L344.45 294.92 L344.95 295.04 L345.45 295.15 L345.94 295.26 L346.44 295.37 L346.94 295.48 L347.43 295.59 L347.93 295.70 L348.43 295.81 L348.92 295.92 L349.42 296.03 L349.92 296.14 L350.41 296.25 L350.91 296.36 L351.41 296.46 L351.90 296.57 L352.40 296.68 L352.90 296.78 L353.39 296.89 L353.89 296.99 L354.39 297.10 L354.88 297.20 L355.38 297.30 L355.88 297.41 L356.37 297.51 L356.87 297.61 L357.37 297.71 L357.86 297.82 L358.36 297.92 L358.86 298.02 L359.35 298.12 L359.85 298.22 L360.35 298.32 L360.84 298.42 L361.34 298.52 L361.84 298.62 L362.33 298.71 L362.83 298.81 L363.33 298.91 L363.82 299.01 L364.32 299.10 L364.82 299.20 L365.31 299.30 L365.81 299.39 L366.31 299.49 L366.80 299.58 L367.30 299.68 L367.80 299.77 L368.29 299.87 L368.79 299.96 L369.29 300.05 L369.78 300.15 L370.28 300.24 L370.77 300.33 L371.27 300.42 L371.77 300.51 L372.26 300.60 L372.76 300.70 L373.26 300.79 L373.75 300.88 L374.25 300.97 L374.75 301.06 L375.24 301.14 L375.74 301.23 L376.24 301.32 L376.73 301.41 L377.23 301.50 L377.73 301.59 L378.22 301.67 L378.72 301.76 L379.22 301.85 L379.71 301.93 L380.21 302.02 L380.71 302.10 L381.20 302.19 L381.70 302.27 L382.20 302.36 L382.69 302.44 L383.19 302.53 L383.69 302.61 L384.18 302.70 L384.68 302.78 L385.18 302.86 L385.67 302.94 L386.17 303.03 L386.67 303.11 L387.16 303.19 L387.66 303.27 L388.16 303.35 L388.65 303.43 L389.15 303.52 L389.65 303.60 L390.14 303.68 L390.64 303.76 L391.14 303.84 L391.63 303.91 L392.13 303.99 L392.63 304.07 L393.12 304.15 L393.62 304.23 L394.12 304.31 L394.61 304.38 L395.11 304.46 L395.61 304.54 L396.10 304.62 L396.60 304.69 L397.10 304.77 L397.59 304.84 L398.09 304.92 L398.59 305.00 L399.08 305.07 L399.58 305.15 L400.08 305.22 L400.57 305.30 L401.07 305.37 L401.57 305.44 L402.06 305.52 L402.56 305.59 L403.06 305.67 L403.55 305.74 L404.05 305.81 L404.55 305.88 L405.04 305.96 L405.54 306.03 L406.04 306.10 L406.53 306.17 L407.03 306.24 L407.52 306.31 L408.02 306.39 L408.52 306.46 L409.01 306.53 L409.51 306.60 L410.01 306.67 L410.50 306.74 L411.00 306.81 L411.50 306.88 L411.99 306.94 L412.49 307.01 L412.99 307.08 L413.48 307.15 L413.98 307.22 L414.48 307.29 L414.97 307.35 L415.47 307.42 L415.97 307.49 L416.46 307.56 L416.96 307.62 L417.46 307.69 L417.95 307.76 L418.45 307.82 L418.95 307.89 L419.44 307.95 L419.94 308.02 L420.44 308.09 L420.93 308.15 L421.43 308.22 L421.93 308.28 L422.42 308.35 L422.92 308.41 L423.42 308.47 L423.91 308.54 L424.41 308.60 L424.91 308.67 L425.40 308.73 L425.90 308.79 L426.40 308.86 L426.89 308.92 L427.39 308.98 L427.89 309.04 L428.38 309.11 L428.88 309.17 L429.38 309.23 L429.87 309.29 L430.37 309.35 L430.87 309.41 L431.36 309.48 L431.86 309.54 L432.36 309.60 L432.85 309.66 L433.35 309.72 L433.85 309.78 L434.34 309.84 L434.84 309.90 L435.34 309.96 L435.83 310.02 L436.33 310.08 L436.83 310.14 L437.32 310.19 L437.82 310.25 L438.32 310.31 L438.81 310.37 L439.31 310.43 L439.81 310.49 L440.30 310.54 L440.80 310.60 L441.30 310.66 L441.79 310.72 L442.29 310.77 L442.79 310.83 L443.28 310.89 L443.78 310.94 L444.27 311.00 L444.77 311.06 L445.27 311.11 L445.76 311.17 L446.26 311.23 L446.76 311.28 L447.25 311.34 L447.75 311.39 L448.25 311.45 L448.74 311.50 L449.24 311.56 L449.74 311.61 L450.23 311.67 L450.73 311.72 L451.23 311.78 L451.72 311.83 L452.22 311.88 L452.72 311.94 L453.21 311.99 L453.71 312.04 L454.21 312.10 L454.70 312.15 L455.20 312.20 L455.70 312.26 L456.19 312.31 L456.69 312.36 L457.19 312.42 L457.68 312.47 L458.18 312.52 L458.68 312.57 L459.17 312.62 L459.67 312.67 L460.17 312.73 L460.66 312.78 L461.16 312.83 L461.66 312.88 L462.15 312.93 L462.65 312.98 L463.15 313.03 L463.64 313.08 L464.14 313.13 L464.64 313.18 L465.13 313.23 L465.63 313.28 L466.13 313.33 L466.62 313.38 L467.12 313.43 L467.62 313.48 L468.11 313.53 L468.61 313.58 L469.11 313.63 L469.60 313.68 L470.10 313.73 L470.60 313.78 L471.09 313.83 L471.59 313.87 L472.09 313.92 L472.58 313.97 L473.08 314.02 L473.58 314.07 L474.07 314.11 L474.57 314.16 L475.07 314.21 L475.56 314.26 L476.06 314.30 L476.56 314.35 L477.05 314.40 L477.55 314.44 L478.05 314.49 L478.54 314.54 L479.04 314.58 L479.54 314.63 L480.03 314.68 L480.53 314.72 L481.02 314.77 L481.52 314.81 L482.02 314.86 L482.51 314.91 L483.01 314.95 L483.51 315.00 L484.00 315.04 L484.50 315.09 L485.00 315.13 L485.49 315.18 L485.99 315.22 L486.49 315.27 L486.98 315.31 L487.48 315.35 L487.98 315.40 L488.47 315.44 L488.97 315.49 L489.47 315.53 L489.96 315.57 L490.46 315.62 L490.96 315.66 L491.45 315.71 L491.95 315.75 L492.45 315.79 L492.94 315.84 L493.44 315.88 L493.94 315.92 L494.43 315.96 L494.93 316.01 L495.43 316.05 L495.92 316.09 L496.42 316.13 L496.92 316.18 L497.41 316.22 L497.91 316.26 L498.41 316.30 L498.90 316.34 L499.40 316.39 L499.90 316.43 L500.39 316.47 L500.89 316.51 L501.39 316.55 L501.88 316.59 L502.38 316.63 L502.88 316.68 L503.37 316.72 L503.87 316.76 L504.37 316.80 L504.86 316.84 L505.36 316.88 L505.86 316.92 L506.35 316.96 L506.85 317.00 L507.35 317.04 L507.84 317.08 L508.34 317.12 L508.84 317.16 L509.33 317.20 L509.83 317.24 L510.33 317.28 L510.82 317.32 L511.32 317.36 L511.82 317.40 L512.31 317.43 L512.81 317.47 L513.31 317.51 L513.80 317.55 L514.30 317.59 L514.80 317.63 L515.29 317.67 L515.79 317.71 L516.29 317.74 L516.78 317.78 L517.28 317.82 L517.77 317.86 L518.27 317.90 L518.77 317.93 L519.26 317.97 L519.76 318.01 L520.26 318.05 L520.75 318.09 L521.25 318.12 L521.75 318.16 L522.24 318.20 L522.74 318.23 L523.24 318.27 L523.73 318.31 L524.23 318.35 L524.73 318.38 L525.22 318.42 L525.72 318.46 L526.22 318.49 L526.71 318.53 L527.21 318.56 L527.71 318.60 L528.20 318.64 L528.70 318.67 L529.20 318.71 L529.69 318.75 L530.19 318.78 L530.69 318.82 L531.18 318.85 L531.68 318.89 L532.18 318.92 L532.67 318.96 L533.17 318.99 L533.67 319.03 L534.16 319.06 L534.66 319.10 L535.16 319.13 L535.65 319.17 L536.15 319.20 L536.65 319.24 L537.14 319.27 L537.64 319.31 L538.14 319.34 L538.63 319.38 L539.13 319.41 L539.63 319.45 L540.12 319.48 L540.62 319.51 L541.12 319.55 L541.61 319.58 L542.11 319.62 L542.61 319.65 L543.10 319.68 L543.60 319.72 L544.10 319.75 L544.59 319.78 L545.09 319.82 L545.59 319.85 L546.08 319.88 L546.58 319.92 L547.08 319.95 L547.57 319.98 L548.07 320.02 L548.57 320.05 L549.06 320.08 L549.56 320.12 L550.06 320.15 L550.55 320.18 L551.05 320.21 L551.55 320.25 L552.04 320.28 L552.54 320.31 L553.04 320.34 L553.53 320.38 L554.03 320.41 L554.52 320.44 L555.02 320.47 L555.52 320.50 L556.01 320.53 L556.51 320.57 L557.01 320.60 L557.50 320.63 L558.00 320.66 L558.50 320.69 L558.99 320.72 L559.49 320.76 L559.99 320.79 L560.48 320.82 L560.98 320.85 L561.48 320.88 L561.97 320.91 L562.47 320.94 L562.97 320.97 L563.46 321.00 L563.96 321.03 L564.46 321.07 L564.95 321.10 L565.45 321.13 L565.95 321.16 L566.44 321.19 L566.94 321.22 L567.44 321.25 L567.93 321.28 L568.43 321.31 L568.93 321.34 L569.42 321.37 L569.92 321.40 L570.42 321.43 L570.91 321.46 L571.41 321.49 L571.91 321.52 L572.40 321.55 L572.90 321.58 L573.40 321.61 L573.89 321.63 L574.39 321.66 L574.89 321.69 L575.38 321.72 L575.88 321.75 L576.38 321.78 L576.87 321.81 L577.37 321.84 L577.87 321.87 L578.36 321.90 L578.86 321.93 L579.36 321.95 L579.85 321.98 L580.35 322.01 L580.85 322.04 L581.34 322.07 L581.84 322.10 L582.34 322.13 L582.83 322.15 L583.33 322.18 L583.83 322.21 L584.32 322.24 L584.82 322.27 L585.32 322.29 L585.81 322.32 L586.31 322.35 L586.81 322.38 L587.30 322.41 L587.80 322.43 L588.30 322.46 L588.79 322.49 L589.29 322.52 L589.79 322.54 L590.28 322.57 L590.78 322.60 L591.27 322.63 L591.77 322.65 L592.27 322.68 L592.76 322.71 L593.26 322.73 L593.76 322.76 L594.25 322.79 L594.75 322.82 L595.25 322.84 L595.74 322.87 L596.24 322.90 L596.74 322.92 L597.23 322.95 L597.73 322.98 L598.23 323.00 L598.72 323.03 L599.22 323.06 L599.72 323.08 L600.21 323.11 L600.71 323.13 L601.21 323.16 L601.70 323.19 L602.20 323.21 L602.70 323.24 L603.19 323.26 L603.69 323.29 L604.19 323.32 L604.68 323.34 L605.18 323.37 L605.68 323.39 L606.17 323.42 L606.67 323.45 L607.17 323.47 L607.66 323.50 L608.16 323.52 L608.66 323.55 L609.15 323.57 L609.65 323.60 L610.15 323.62 L610.64 323.65 L611.14 323.67 L611.64 323.70 L612.13 323.72 L612.63 323.75 L613.13 323.77 L613.62 323.80 L614.12 323.82 L614.62 323.85 L615.11 323.87 L615.61 323.90 L616.11 323.92 L616.60 323.95 L617.10 323.97 L617.60 324.00 L618.09 324.02 L618.59 324.05 L619.09 324.07 L619.58 324.09 L620.08 324.12 L620.58 324.14 L621.07 324.17 L621.57 324.19 L622.07 324.22 L622.56 324.24 L623.06 324.26 L623.56 324.29 L624.05 324.31 L624.55 324.34 L625.05 324.36 L625.54 324.38 L626.04 324.41 L626.54 324.43 L627.03 324.45 L627.53 324.48 L628.02 324.50 L628.52 324.52 L629.02 324.55 L629.51 324.57 L630.01 324.59 L630.51 324.62 L631.00 324.64 L631.50 324.66 L632.00 324.69 L632.49 324.71 L632.99 324.73 L633.49 324.76 L633.98 324.78 L634.48 324.80 L634.98 324.83 L635.47 324.85 L635.97 324.87 L636.47 324.89 L636.96 324.92 L637.46 324.94 L637.96 324.96 L638.45 324.99 L638.95 325.01 L639.45 325.03 L639.94 325.05 L640.44 325.08 L640.94 325.10 L641.43 325.12 L641.93 325.14 L642.43 325.17 L642.92 325.19 L643.42 325.21 L643.92 325.23 L644.41 325.25 L644.91 325.28 L645.41 325.30 L645.90 325.32 L646.40 325.34 L646.90 325.36 L647.39 325.39 L647.89 325.41 L648.39 325.43 L648.88 325.45 L649.38 325.47 L649.88 325.49 L650.37 325.52 L650.87 325.54 L651.37 325.56 L651.86 325.58 L652.36 325.60 L652.86 325.62 L653.35 325.65 L653.85 325.67 L654.35 325.69 L654.84 325.71 L655.34 325.73 L655.84 325.75 L656.33 325.77 L656.83 325.79 L657.33 325.82 L657.82 325.84 L658.32 325.86 L658.82 325.88 L659.31 325.90 L659.81 325.92 L660.31 325.94 L660.80 325.96 L661.30 325.98 L661.80 326.00 L662.29 326.02 L662.79 326.05 L663.29 326.07 L663.78 326.09 L664.28 326.11 L664.77 326.13 L665.27 326.15 L665.77 326.17 L666.26 326.19 L666.76 326.21 L667.26 326.23 L667.75 326.25 L668.25 326.27 L668.75 326.29 L669.24 326.31 L669.74 326.33 L670.24 326.35 L670.73 326.37 L671.23 326.39 L671.73 326.41 L672.22 326.43 L672.72 326.45 L673.22 326.47 L673.71 326.49 L674.21 326.51 L674.71 326.53 L675.20 326.55 L675.70 326.57 L676.20 326.59 L676.69 326.61 L677.19 326.63 L677.69 326.65 L678.18 326.67 L678.68 326.69 L679.18 326.71 L679.67 326.73 L680.17 326.75 L680.67 326.77 L681.16 326.78 L681.66 326.80 L682.16 326.82 L682.65 326.84 L683.15 326.86 L683.65 326.88 L684.14 326.90 L684.64 326.92 L685.14 326.94 L685.63 326.96 L686.13 326.98 L686.63 327.00 L687.12 327.01 L687.62 327.03 L688.12 327.05 L688.61 327.07 L689.11 327.09 L689.61 327.11 L690.10 327.13 L690.60 327.15 L691.10 327.17 L691.59 327.18 L692.09 327.20 L692.59 327.22 L693.08 327.24 L693.58 327.26 L694.08 327.28 L694.57 327.30 L695.07 327.31 L695.57 327.33 L696.06 327.35 L696.56 327.37 L697.06 327.39 L697.55 327.41 L698.05 327.42 L698.55 327.44 L699.04 327.46 L699.54 327.48 L700.04 327.50 L700.53 327.51 L701.03 327.53 L701.52 327.55 L702.02 327.57 L702.52 327.59 L703.01 327.60 L703.51 327.62 L704.01 327.64 L704.50 327.66 L705.00 327.68 L705.50 327.69 L705.99 327.71 L706.49 327.73 L706.99 327.75 L707.48 327.77 L707.98 327.78 L708.48 327.80 L708.97 327.82 L709.47 327.84 L709.97 327.85 L710.46 327.87 L710.96 327.89 L711.46 327.91 L711.95 327.92 L712.45 327.94 L712.95 327.96 L713.44 327.98 L713.94 327.99 L714.44 328.01 L714.93 328.03 L715.43 328.04 L715.93 328.06 L716.42 328.08 L716.92 328.10 L717.42 328.11 L717.91 328.13 L718.41 328.15 L718.91 328.16 L719.40 328.18 L719.90 328.20 L720.40 328.21 L720.89 328.23 L721.39 328.25 L721.89 328.27 L722.38 328.28 L722.88 328.30 L723.38 328.32 L723.87 328.33 L724.37 328.35 L724.87 328.37 L725.36 328.38 L725.86 328.40 L726.36 328.42 L726.85 328.43 L727.35 328.45 L727.85 328.47 L728.34 328.48 L728.84 328.50 L729.34 328.52 L729.83 328.53 L730.33 328.55 L730.83 328.56 L731.32 328.58 L731.82 328.60 L732.32 328.61 L732.81 328.63 L733.31 328.65 L733.81 328.66 L734.30 328.68 L734.80 328.69 L735.30 328.71 L735.79 328.73 L736.29 328.74 L736.78 328.76 L737.28 328.78 L737.78 328.79 L738.27 328.81 L738.77 328.82 L739.27 328.84 L739.76 328.85 L740.26 328.87 L740.76 328.89 L741.25 328.90 L741.75 328.92 L742.25 328.93 L742.74 328.95 L743.24 328.97 L743.74 328.98 L744.23 329.00 L744.73 329.01 L745.23 329.03 L745.72 329.04 L746.22 329.06 L746.72 329.08 L747.21 329.09 L747.71 329.11 L748.21 329.12 L748.70 329.14 L749.20 329.15 L749.70 329.17 L750.19 329.18 L750.69 329.20 L751.19 329.21 L751.68 329.23 L752.18 329.24 L752.68 329.26 L753.17 329.28 L753.67 329.29 L754.17 329.31 L754.66 329.32 L755.16 329.34 L755.66 329.35 L756.15 329.37 L756.65 329.38 L757.15 329.40 L757.64 329.41 L758.14 329.43 L758.64 329.44 L759.13 329.46 L759.63 329.47 L760.13 329.49 L760.62 329.50 L761.12 329.52 L761.62 329.53 L762.11 329.55 L762.61 329.56 L763.11 329.58 L763.60 329.59 L764.10 329.60 L764.60 329.62 L765.09 329.63 L765.59 329.65 L766.09 329.66 L766.58 329.68 L767.08 329.69 L767.58 329.71 L768.07 329.72 L768.57 329.74 L769.07 329.75 L769.56 329.77 L770.06 329.78 L770.56 329.79 L771.05 329.81 L771.55 329.82 L772.05 329.84 L772.54 329.85 L773.04 329.87 L773.53 329.88 L774.03 329.90 L774.53 329.91 L775.02 329.92 L775.52 329.94 L776.02 329.95 L776.51 329.97 L777.01 329.98 L777.51 329.99 L778.00 330.01 L778.50 330.02 L779.00 330.04 L779.49 330.05 L779.99 330.07 L780.49 330.08 L780.98 330.09 L781.48 330.11 L781.98 330.12 L782.47 330.14 L782.97 330.15 L783.47 330.16 L783.96 330.18 L784.46 330.19 L784.96 330.20 L785.45 330.22 L785.95 330.23 L786.45 330.25 L786.94 330.26 L787.44 330.27 L787.94 330.29 L788.43 330.30 L788.93 330.31 L789.43 330.33 L789.92 330.34 L790.42 330.36 L790.92 330.37 L791.41 330.38 L791.91 330.40 L792.41 330.41 L792.90 330.42 L793.40 330.44 L793.90 330.45 L794.39 330.46 L794.89 330.48" fill="none" stroke="#ff0000" stroke-width="5.8" stroke-linejoin="round" stroke-dasharray="7.600 3.200 14.640 3.245" stroke-dashoffset="1.70"/>
<path d="M99.25 478.50 v-7.50 M99.25 53.00 v6.80 M124.00 478.50 v-4.40 M124.00 53.00 v3.80 M148.76 478.50 v-4.40 M148.76 53.00 v3.80 M173.52 478.50 v-4.40 M173.52 53.00 v3.80 M198.27 478.50 v-4.40 M198.27 53.00 v3.80 M223.03 478.50 v-7.50 M223.03 53.00 v6.80 M247.78 478.50 v-4.40 M247.78 53.00 v3.80 M272.54 478.50 v-4.40 M272.54 53.00 v3.80 M297.30 478.50 v-4.40 M297.30 53.00 v3.80 M322.05 478.50 v-4.40 M322.05 53.00 v3.80 M346.81 478.50 v-7.50 M346.81 53.00 v6.80 M371.56 478.50 v-4.40 M371.56 53.00 v3.80 M396.32 478.50 v-4.40 M396.32 53.00 v3.80 M421.08 478.50 v-4.40 M421.08 53.00 v3.80 M445.83 478.50 v-4.40 M445.83 53.00 v3.80 M470.59 478.50 v-7.50 M470.59 53.00 v6.80 M495.34 478.50 v-4.40 M495.34 53.00 v3.80 M520.10 478.50 v-4.40 M520.10 53.00 v3.80 M544.85 478.50 v-4.40 M544.85 53.00 v3.80 M569.61 478.50 v-4.40 M569.61 53.00 v3.80 M594.37 478.50 v-7.50 M594.37 53.00 v6.80 M619.12 478.50 v-4.40 M619.12 53.00 v3.80 M643.88 478.50 v-4.40 M643.88 53.00 v3.80 M668.63 478.50 v-4.40 M668.63 53.00 v3.80 M693.39 478.50 v-4.40 M693.39 53.00 v3.80 M718.15 478.50 v-7.50 M718.15 53.00 v6.80 M742.90 478.50 v-4.40 M742.90 53.00 v3.80 M767.66 478.50 v-4.40 M767.66 53.00 v3.80 M99.25 478.50 h7.60 M786.94 478.50 h-6.80 M99.25 457.23 h4.60 M786.94 457.23 h-4.20 M99.25 435.95 h4.60 M786.94 435.95 h-4.20 M99.25 414.68 h4.60 M786.94 414.68 h-4.20 M99.25 393.40 h7.60 M786.94 393.40 h-6.80 M99.25 372.12 h4.60 M786.94 372.12 h-4.20 M99.25 350.85 h4.60 M786.94 350.85 h-4.20 M99.25 329.57 h4.60 M786.94 329.57 h-4.20 M99.25 308.30 h7.60 M786.94 308.30 h-6.80 M99.25 287.02 h4.60 M786.94 287.02 h-4.20 M99.25 265.75 h4.60 M786.94 265.75 h-4.20 M99.25 244.47 h4.60 M786.94 244.47 h-4.20 M99.25 223.20 h7.60 M786.94 223.20 h-6.80 M99.25 201.93 h4.60 M786.94 201.93 h-4.20 M99.25 180.65 h4.60 M786.94 180.65 h-4.20 M99.25 159.38 h4.60 M786.94 159.38 h-4.20 M99.25 138.10 h7.60 M786.94 138.10 h-6.80 M99.25 116.82 h4.60 M786.94 116.82 h-4.20 M99.25 95.55 h4.60 M786.94 95.55 h-4.20 M99.25 74.27 h4.60 M786.94 74.27 h-4.20 M99.25 53.00 h7.60 M786.94 53.00 h-6.80" stroke="#5a5a5a" stroke-width="0.8" fill="none"/>
<rect x="99.01" y="53.00" width="687.93" height="425.50" fill="none" stroke="#555" stroke-width="1.0"/>
<line x1="178.26" y1="480.00" x2="178.26" y2="191.97" stroke="#00ff00" stroke-width="2.95"/>
<path d="M517.37 176.90 h74.00" fill="none" stroke="#0000ff" stroke-width="6.0" stroke-linecap="square" stroke-dasharray="14.75 14.75"/>
<path d="M514.32 231.00 h83.40" fill="none" stroke="#ff0000" stroke-width="6.1" stroke-dasharray="8.2 2.55 15.15 2.55"/>
</g>
<g opacity="0.999">
<text transform="translate(95.96 512.75) scale(1.0000 1)" font-size="30.0">0</text>
<path transform="translate(226.04 512.75) scale(28.7400 28.7400)" d="M0.3726 0H0.2847V-0.56Q0.2529 -0.5298 0.2014 -0.4995T0.1089 -0.4541V-0.539Q0.1821 -0.5735 0.2368 -0.6226T0.3145 -0.7178H0.3726Z" fill="#000"/>
<text transform="translate(356.12 512.75) scale(1.0000 1)" font-size="30.0">2</text>
<text transform="translate(486.20 512.75) scale(1.0000 1)" font-size="30.0">3</text>
<text transform="translate(616.28 512.75) scale(1.0000 1)" font-size="30.0">4</text>
<text transform="translate(746.36 512.75) scale(1.0000 1)" font-size="30.0">5</text>
<text transform="translate(55.40 487.70) scale(1.0000 1)" font-size="30.0">0.0</text>
<text transform="translate(55.40 402.60) scale(1.0000 1)" font-size="30.0">0.2</text>
<text transform="translate(55.40 317.50) scale(1.0000 1)" font-size="30.0">0.4</text>
<text transform="translate(55.40 232.40) scale(1.0000 1)" font-size="30.0">0.6</text>
<text transform="translate(55.40 147.30) scale(1.0000 1)" font-size="30.0">0.8</text>
<path transform="translate(55.40 62.20) scale(28.7400 28.7400)" d="M0.3726 0H0.2847V-0.56Q0.2529 -0.5298 0.2014 -0.4995T0.1089 -0.4541V-0.539Q0.1821 -0.5735 0.2368 -0.6226T0.3145 -0.7178H0.3726Z" fill="#000"/>
<text transform="translate(72.08 62.20) scale(1.0000 1)" font-size="30.0">.0</text>
<text transform="translate(447.05 21.70) scale(1.0400 1)" font-size="29.5">(a)</text>
<text transform="translate(456.23 565.00) scale(1.0400 1)" font-size="29.5">T</text>
<text transform="translate(649.66 184.50) scale(1.0400 1)" font-size="26.5" font-style="italic">α</text>
<text transform="translate(665.09 184.50) scale(1.0800 1)" font-size="23.4">=</text>
<path transform="translate(680.26 184.50) scale(24.2106 22.4172)" d="M0.3726 0H0.2847V-0.56Q0.2529 -0.5298 0.2014 -0.4995T0.1089 -0.4541V-0.539Q0.1821 -0.5735 0.2368 -0.6226T0.3145 -0.7178H0.3726Z" fill="#000"/>
<text transform="translate(693.80 184.50) scale(1.0800 1)" font-size="23.4">/</text>
<path d="M703.60 176.60 l2.2 -1.5 l5.1 10.9 l6.4 -25.2 H746.80" fill="none" stroke="#000" stroke-width="1.4" stroke-linejoin="miter"/>
<path d="M705.60 175.60 l4.6 9.8" fill="none" stroke="#000" stroke-width="2.5"/>
<text transform="translate(724.34 184.50) scale(1.0800 1)" font-size="23.4">2</text>
<text transform="translate(649.66 238.20) scale(1.0400 1)" font-size="26.5" font-style="italic">α</text>
<text transform="translate(665.09 238.20) scale(1.0800 1)" font-size="23.4">=</text>
<path transform="translate(680.26 238.20) scale(24.2106 22.4172)" d="M0.3726 0H0.2847V-0.56Q0.2529 -0.5298 0.2014 -0.4995T0.1089 -0.4541V-0.539Q0.1821 -0.5735 0.2368 -0.6226T0.3145 -0.7178H0.3726Z" fill="#000"/>
<text transform="translate(693.80 238.20) scale(1.0800 1)" font-size="23.4">/</text>
<path d="M703.60 230.30 l2.2 -1.5 l5.1 10.9 l6.4 -25.2 H746.80" fill="none" stroke="#000" stroke-width="1.4" stroke-linejoin="miter"/>
<path d="M705.60 229.30 l4.6 9.8" fill="none" stroke="#000" stroke-width="2.5"/>
<text transform="translate(724.34 238.20) scale(1.0800 1)" font-size="23.4">3</text>
<g transform="translate(29.90 309.70) rotate(-90) scale(1 1.0509)">
<text x="0" y="0" font-size="30.0">C</text>
<text x="21.4" y="0" font-size="28.3">(</text>
<text x="32.3" y="0" font-size="29.5" font-style="italic">ρ</text>
<path transform="translate(47.60 -12.00) scale(19.6390)" d="M0.3726 0H0.2847V-0.56Q0.2529 -0.5298 0.2014 -0.4995T0.1089 -0.4541V-0.539Q0.1821 -0.5735 0.2368 -0.6226T0.3145 -0.7178H0.3726Z" fill="#000"/>
<text x="59.00" y="-12.0" font-size="20.5">,±</text>
<text x="48.0" y="5.1" font-size="19.5">AB</text>
<text x="77.6" y="0" font-size="28.3">)</text>
</g>
</g>
</svg></body></html>
